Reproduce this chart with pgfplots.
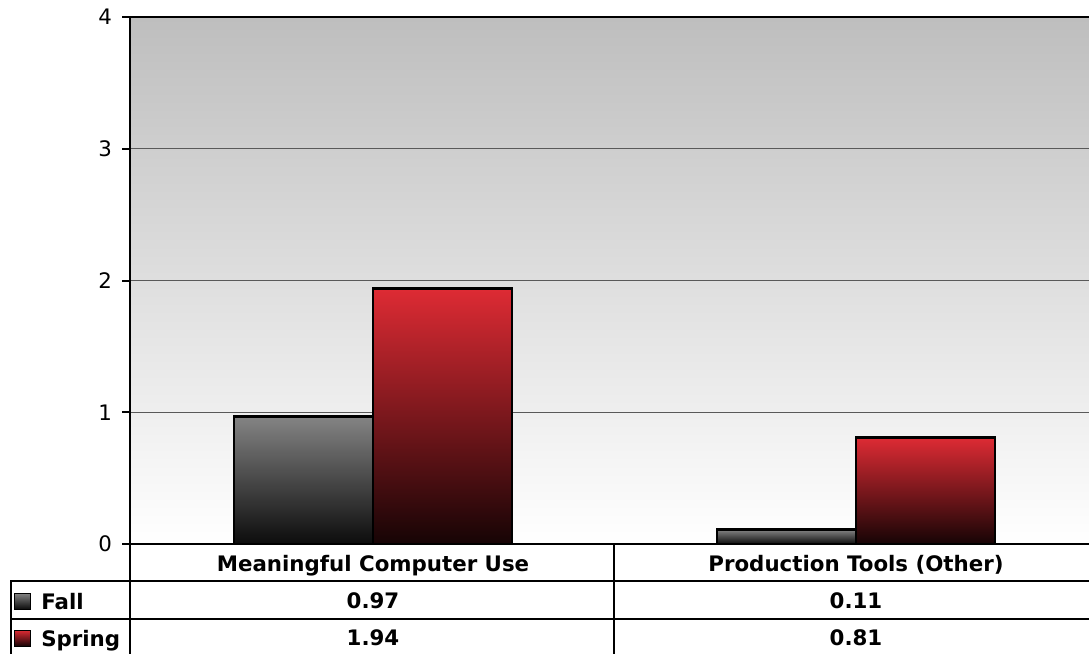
\documentclass[border=0pt]{standalone}
\usepackage{fontspec}
\setmainfont{DejaVu Sans}
\usepackage{pgfplots}
\pgfplotsset{compat=1.18}

\definecolor{bg}{RGB}{190,190,190}
\definecolor{falltop}{RGB}{132,132,132}
\definecolor{fallbot}{RGB}{12,12,12}
\definecolor{springtop}{RGB}{222,43,52}
\definecolor{springbot}{RGB}{22,4,5}

\pgfplotstableread{
x fall spring
0 0.97 1.94
1 0.11 0.81
}\datatable

\begin{document}
\begin{tikzpicture}[x=0.75pt,y=0.75pt]
\useasboundingbox (0,0) rectangle (1089,654);
\begin{axis}[
 at={(97.5pt,82.5pt)}, anchor=south west,
 scale only axis, width=719.25pt, height=395.25pt,
 xmin=-0.503, xmax=1.4824, ymin=0, ymax=4,
 ytick={0,1,2,3,4}, xtick=\empty,
 axis background/.style={top color=bg, bottom color=white},
 ymajorgrids, grid style={black!65, line width=0.8pt},
 axis x line*=bottom, axis y line*=left,
 axis line style={line width=2pt, -},
 y tick style={line width=1.5pt, black},
 major tick length=6pt,
 tick align=outside,
 yticklabel style={font=\fontsize{16}{16}\selectfont, xshift=-4pt},
 /pgf/number format/assume math mode=true,
 clip=false,
 fallbar/.style={ybar, bar width=104.25pt, bar shift=-52.125pt, draw=black, line width=2pt, top color=falltop, bottom color=fallbot},
 springbar/.style={ybar, bar width=104.25pt, bar shift=52.125pt, draw=black, line width=2pt, top color=springtop, bottom color=springbot},
]
\addplot[fallbar] table[x=x, y=fall, skip coords between index={1}{2}] {\datatable};
\addplot[fallbar] table[x=x, y=fall, skip coords between index={0}{1}] {\datatable};
\addplot[springbar] table[x=x, y=spring, skip coords between index={1}{2}] {\datatable};
\addplot[springbar] table[x=x, y=spring, skip coords between index={0}{1}] {\datatable};
\draw[black, line width=2pt] (rel axis cs:0,1) -- (rel axis cs:1,1);
\end{axis}
% data table
\begin{scope}[line width=2pt]
\draw (10,73) -- (1089,73);
\draw (10,35) -- (1089,35);
\draw (11,73) -- (11,0);
\draw (130,110) -- (130,0);
\draw (614,110) -- (614,0);
\end{scope}
\shade[top color=falltop, bottom color=fallbot, draw=black, line width=0.75pt] (14,45) rectangle (30,61);
\shade[top color=springtop, bottom color=springbot, draw=black, line width=0.75pt] (14,8) rectangle (30,24);
\begin{scope}[every node/.style={font=\fontsize{16}{16}\selectfont\bfseries, inner sep=0pt}]
\node[anchor=base west] at (41,45) {Fall};
\node[anchor=base west] at (41,8) {Spring};
\node[anchor=base] at (373,83) {Meaningful Computer Use};
\node[anchor=base] at (856,83) {Production Tools (Other)};
\node[anchor=base] at (373,46) {0.97};
\node[anchor=base] at (856,46) {0.11};
\node[anchor=base] at (373,9) {1.94};
\node[anchor=base] at (856,9) {0.81};
\end{scope}
\end{tikzpicture}
\end{document}
